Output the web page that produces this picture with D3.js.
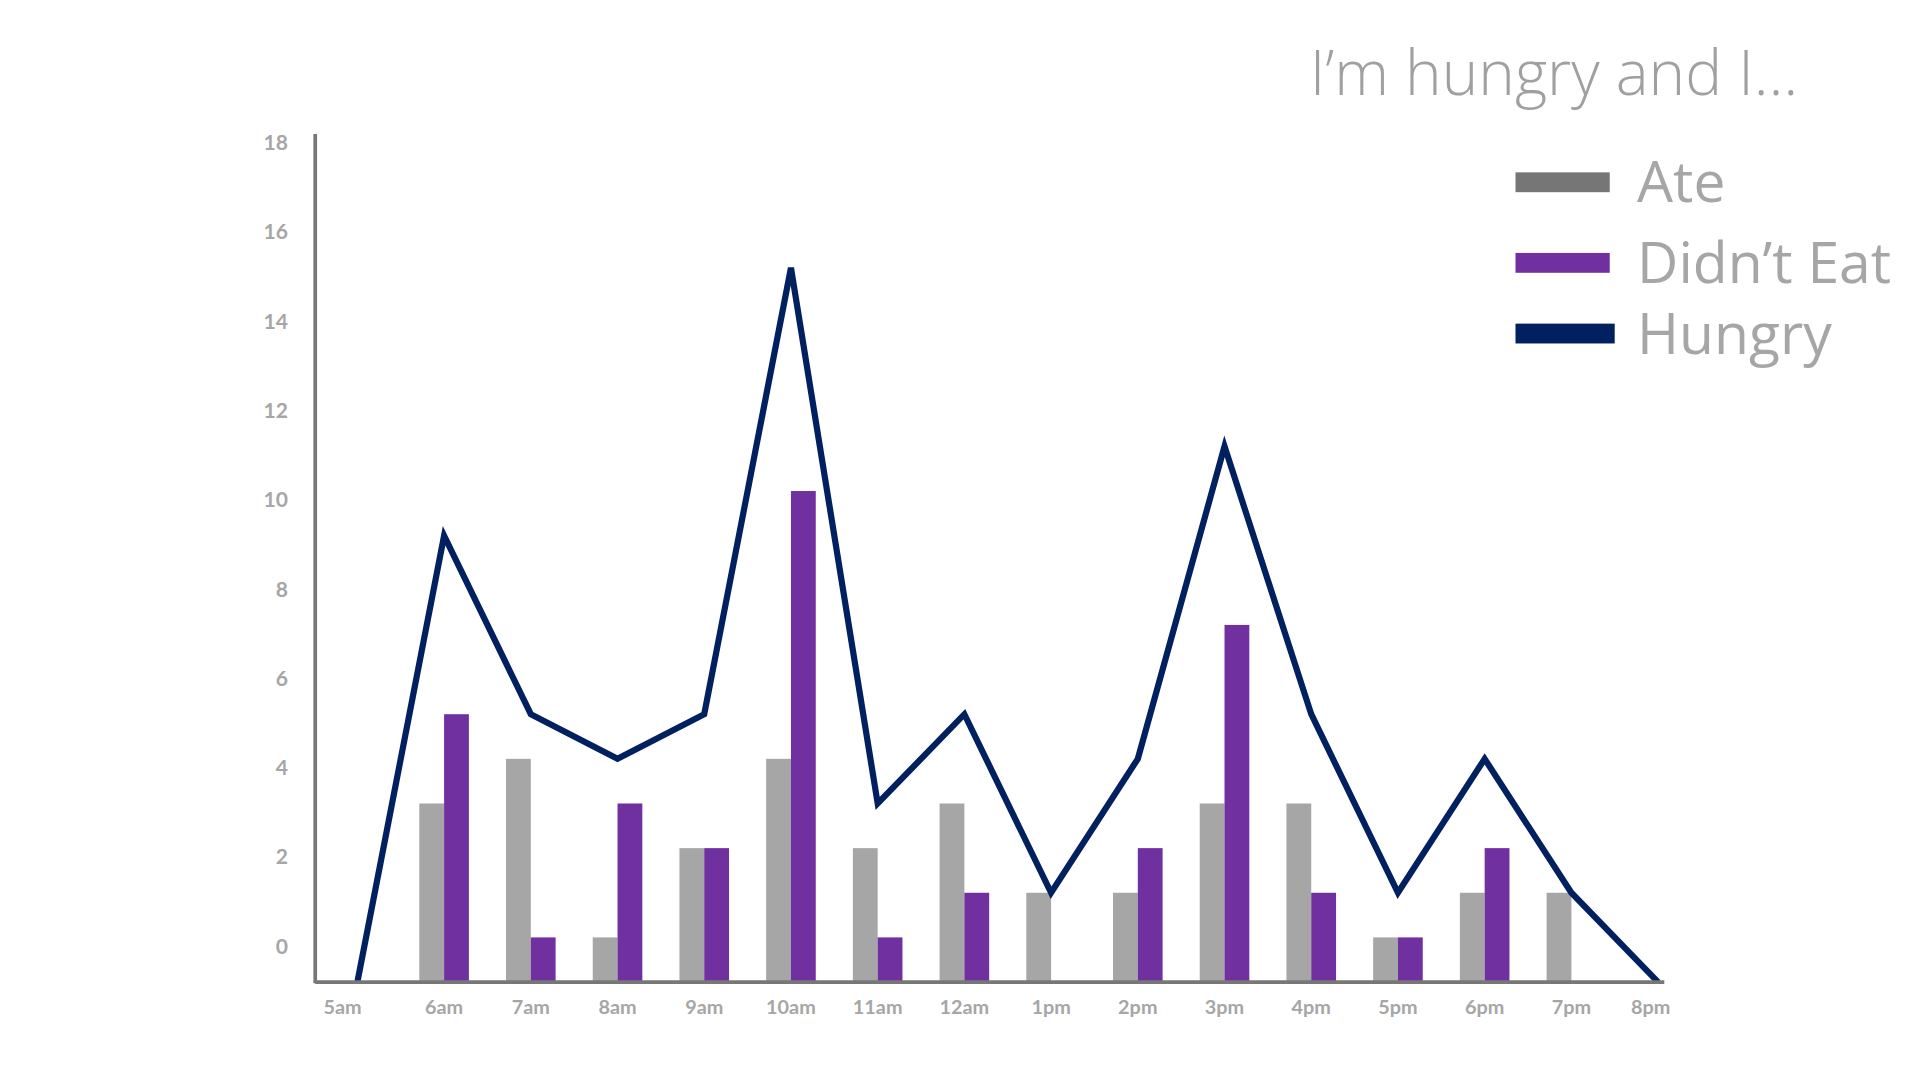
<!DOCTYPE html>
<html><head><meta charset="utf-8">
<script src="https://cdn.jsdelivr.net/npm/d3@7"></script>
<style>body{margin:0;background:#fff}svg{display:block}</style></head>
<body><svg id="c" width="1920" height="1080" viewBox="0 0 1548 871"></svg>
<script>
const hours = ["5am","6am","7am","8am","9am","10am","11am","12am","1pm","2pm","3pm","4pm","5pm","6pm","7pm","8pm"];
const ate =     [null,4,5,1,3,5,3,4,2,2,4,4,1,2,2,null];
const didnt =   [null,6,1,4,3,11,1,2,0,3,8,2,1,3,0,null];
const hungry =  [0,10,6,5,6,16,4,6,2,5,12,6,2,5,2,0];
const yTicks = [0,2,4,6,8,10,12,14,16,18];
const legendItems = [["Ate","#767676"],["Didn\u2019t Eat","#7030a0"],["Hungry","#002060"]];

const svg = d3.select("#c");
const x = d3.scalePoint().domain(hours).range([288,1337]);
const y = d3.scaleLinear().domain([0,19]).range([792,108]);
const labelOffset = 0.8;
const bw = 20;

// bars
hours.forEach((h,i)=>{
  if(ate[i]) svg.append("rect").attr("x",x(h)-bw).attr("width",bw).attr("y",y(ate[i])).attr("height",y(0)-y(ate[i])).attr("fill","#a6a6a6");
  if(didnt[i]) svg.append("rect").attr("x",x(h)).attr("width",bw).attr("y",y(didnt[i])).attr("height",y(0)-y(didnt[i])).attr("fill","#7030a0");
});
// line
svg.append("path").datum(hungry).attr("fill","none").attr("stroke","#002060").attr("stroke-width",5)
  .attr("d",d3.line().x((d,i)=>x(hours[i])).y(d=>y(d)));
// axes
svg.append("line").attr("x1",254).attr("x2",254).attr("y1",108).attr("y2",793).attr("stroke","#777").attr("stroke-width",3);
svg.append("line").attr("x1",254).attr("x2",1342).attr("y1",792).attr("y2",792).attr("stroke","#777").attr("stroke-width",3);
svg.selectAll(".yt").data(yTicks).join("text").attr("x",232).attr("y",d=>y(d+labelOffset)).attr("dy","0.35em")
  .attr("text-anchor","end").attr("font-family","Lato, sans-serif").attr("font-weight","bold").attr("font-size",17).attr("fill","#a6a6a6").text(d=>d);
svg.selectAll(".xt").data(hours).join("text").attr("x",(d,i)=>x(d)+(i==0?-12:i==15?-6:0)).attr("y",818)
  .attr("text-anchor","middle").attr("font-family","Lato, sans-serif").attr("font-weight","bold").attr("font-size",16).attr("fill","#a6a6a6").text(d=>d);
// title
svg.append("text").attr("x",1450).attr("y",77).attr("text-anchor","end").attr("font-family","'Open Sans', sans-serif").attr("font-weight",300)
  .attr("font-size",50).attr("fill","#a0a0a0").text("I\u2019m hungry and I\u2026");
// legend
legendItems.forEach((d,i)=>{
  const cy=[147,212,269][i];
  svg.append("rect").attr("x",1222).attr("y",cy-8).attr("width",[76,76,80][i]).attr("height",16).attr("fill",d[1]);
  svg.append("text").attr("x",1320).attr("y",cy).attr("dy","0.35em").attr("font-family","'Open Sans', sans-serif")
    .attr("font-size",46).attr("fill","#a6a6a6").text(d[0]);
});
</script></body></html>
